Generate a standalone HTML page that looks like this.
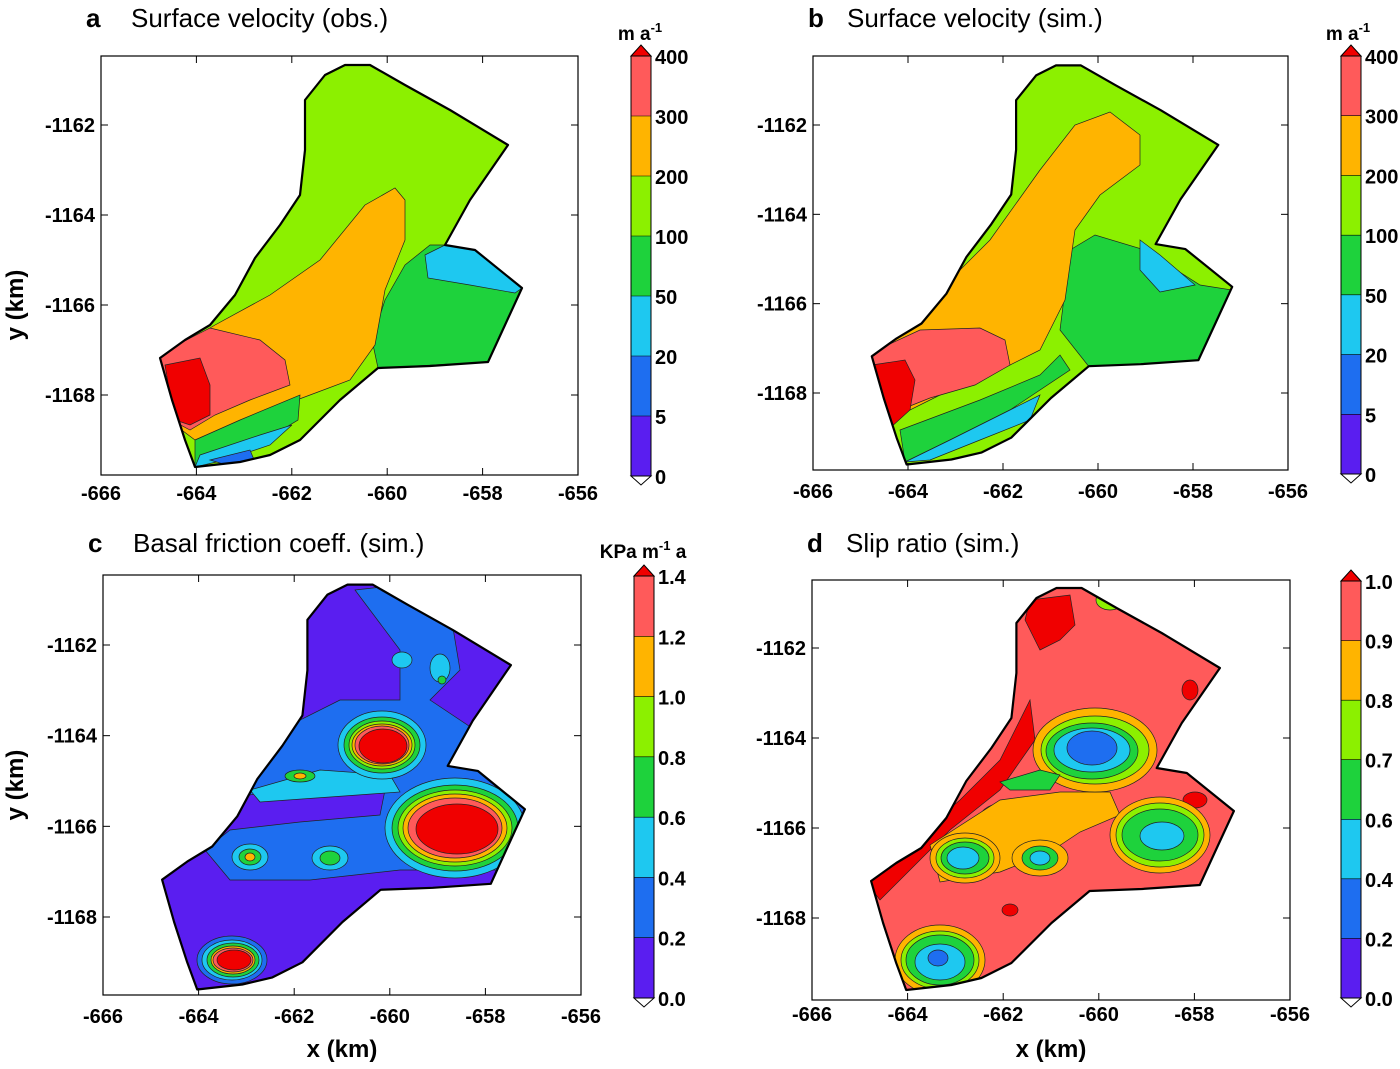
<!DOCTYPE html>
<html><head><meta charset="utf-8"><style>
html,body{margin:0;padding:0;background:#fff;}
svg text{font-family:"Liberation Sans",Arial,sans-serif;}
</style></head><body>
<svg id="fig" width="1400" height="1064" xmlns="http://www.w3.org/2000/svg"></svg>
<script>
// ---- data ----
const xTicks = [-666,-664,-662,-660,-658,-656];
const yTicks = [-1162,-1164,-1166,-1168];
const palette = ["#5a1ef0","#1e6ef0","#1ec8f0","#1ed23c","#8cf000","#ffb400","#ff5a5a","#f00000"];
const cbLabelsV = ["400","300","200","100","50","20","5","0"];
const cbLabelsC = ["1.4","1.2","1.0","0.8","0.6","0.4","0.2","0.0"];
const cbLabelsD = ["1.0","0.9","0.8","0.7","0.6","0.4","0.2","0.0"];
const titles = ["Surface velocity (obs.)","Surface velocity (sim.)","Basal friction coeff. (sim.)","Slip ratio (sim.)"];
const letters = ["a","b","c","d"];

const panels = [
 {x0:101,x1:578,yA:125,yB:395,box:[101,56,578,475],cb:[631,56,651,476],lab:cbLabelsV,unit:"m a",sup:"-1",ux:640,xl:492},
 {x0:813,x1:1288,yA:125,yB:393,box:[813,56,1288,470],cb:[1341,56,1361,474],lab:cbLabelsV,unit:"m a",sup:"-1",ux:1348,xl:490},
 {x0:103,x1:581,yA:645,yB:917,box:[103,575,581,995],cb:[634,576,654,998],lab:cbLabelsC,unit:"KPa m",sup:"-1",unit2:" a",ux:643,xl:1015},
 {x0:812,x1:1290,yA:648,yB:918,box:[812,580,1290,1000],cb:[1341,581,1361,998],lab:cbLabelsD,unit:"",ux:1350,xl:1013}
];
function sx(p,k){return p.x0+(k+666)*(p.x1-p.x0)/10;}
function sy(p,k){return p.yA+(-1162-k)*(p.yB-p.yA)/6;}
function ix(p,px){return -666+(px-p.x0)*10/(p.x1-p.x0);}
function iy(p,py){return -1162-(py-p.yA)*6/(p.yB-p.yA);}
const A=panels[0];
const outline = [[195,467],[185,440],[172,400],[160,358],[185,340],[210,325],[235,295],[255,258],[280,225],[300,195],[305,150],[305,100],[325,75],[345,65],[370,65],[405,85],[450,110],[508,145],[470,200],[445,245],[475,250],[522,288],[505,325],[488,362],[430,366],[378,368],[340,400],[300,440],[270,455],[240,462]].map(q=>[ix(A,q[0]),iy(A,q[1])]);

const regionsA = [
 [3,'p',[[378,368],[372,340],[385,300],[405,265],[430,245],[445,245],[475,250],[522,288],[488,362]]],
 [2,'p',[[425,255],[445,245],[475,250],[522,288],[515,293],[470,285],[428,278]]],
 [5,'p',[[160,358],[215,325],[270,295],[320,260],[365,205],[395,188],[405,200],[405,240],[385,290],[375,345],[350,380],[310,395],[270,410],[230,425],[195,440],[175,425]]],
 [6,'p',[[157,355],[210,328],[260,340],[285,360],[290,385],[250,400],[215,415],[190,430],[175,422]]],
 [7,'p',[[165,365],[200,358],[210,385],[210,415],[190,425],[175,420],[170,395]]],
 [3,'p',[[195,440],[240,420],[300,395],[298,420],[265,440],[215,460],[195,467]]],
 [2,'p',[[200,455],[260,435],[292,425],[270,445],[225,460],[195,467]]],
 [1,'p',[[210,460],[250,450],[255,462],[230,466]]]
];
const regionsB = [
 [3,'p',[[1070,250],[1095,235],[1145,250],[1200,285],[1232,290],[1200,365],[1090,368],[1060,330]]],
 [2,'p',[[1140,240],[1160,255],[1195,285],[1160,292],[1140,270]]],
 [3,'p',[[900,430],[980,400],[1040,375],[1060,355],[1070,370],[1010,410],[950,440],[905,462]]],
 [2,'p',[[905,462],[950,440],[1010,410],[1040,395],[1030,420],[980,440],[930,460]]],
 [5,'p',[[870,345],[930,300],[990,240],[1040,170],[1075,125],[1110,112],[1140,135],[1140,165],[1100,195],[1075,230],[1065,300],[1040,350],[990,375],[940,395],[900,415],[880,400]]],
 [6,'p',[[866,355],[920,330],[980,328],[1005,340],[1010,365],[975,385],[930,398],[900,410],[880,410]]],
 [7,'p',[[872,365],[905,360],[915,380],[910,410],[890,428],[878,420]]]
];
const regionsC = [
 [1,'p',[[355,590],[400,585],[450,610],[460,670],[430,700],[520,760],[528,815],[500,870],[400,870],[310,880],[230,880],[205,850],[230,830],[300,822],[380,815],[385,790],[300,785],[250,795],[240,760],[300,720],[340,700],[400,700],[400,650]]],
 [2,'p',[[250,790],[320,770],[390,775],[400,792],[330,797],[260,802]]],
 [2,'e',382,745,44,34],[3,'e',382,745,38,28],[4,'e',382,745,33,24],[5,'e',382,745,30,21],[6,'e',382,745,27,19],[7,'e',383,746,24,17],
 [2,'e',455,828,70,50],[3,'e',455,828,63,43],[4,'e',455,828,57,38],[5,'e',455,828,52,34],[6,'e',455,828,47,30],[7,'e',457,829,41,25],
 [2,'e',250,857,18,13],[3,'e',250,857,11,8],[5,'e',250,857,5,4],
 [2,'e',330,858,18,12],[3,'e',330,858,10,7],
 [3,'e',300,776,15,6],[5,'e',300,776,6,3],
 [2,'e',402,660,10,8],[2,'e',440,668,10,14],[3,'e',442,680,4,4],
 [1,'e',232,960,35,24],[2,'e',232,960,30,20],[3,'e',233,960,26,17],[5,'e',233,960,22,14],[6,'e',233,960,20,12],[7,'e',234,960,17,10]
];
const regionsD = [
 [7,'p',[[1030,600],[1070,595],[1075,625],[1060,640],[1040,650],[1025,620]]],
 [7,'p',[[866,882],[900,850],[960,800],[1000,760],[1020,720],[1030,700],[1035,740],[1000,790],[950,830],[900,880],[880,900]]],
 [7,'e',1000,822,22,18],[7,'e',1010,910,8,6],[7,'e',1190,690,8,10],[7,'e',1195,800,12,8],[7,'e',1115,600,10,8],
 [5,'p',[[930,845],[1000,800],[1060,792],[1110,792],[1120,815],[1080,832],[1050,852],[1000,872],[940,882]]],
 [5,'e',1095,750,62,42],[4,'e',1095,750,54,34],[3,'e',1092,751,46,28],[2,'e',1092,750,38,22],[1,'e',1092,748,25,17],
 [3,'p',[[1000,782],[1040,770],[1060,775],[1050,790],[1010,790]]],
 [5,'e',1160,835,50,38],[4,'e',1160,835,44,32],[3,'e',1160,835,38,26],[2,'e',1162,836,22,14],
 [5,'e',965,858,35,25],[4,'e',965,858,29,20],[3,'e',965,858,24,16],[2,'e',963,858,16,11],
 [5,'e',1040,858,28,18],[3,'e',1040,858,18,12],[2,'e',1040,858,10,7],
 [5,'e',940,960,45,35],[4,'e',940,960,39,29],[3,'e',940,960,34,25],[2,'e',940,962,25,18],[1,'e',938,958,10,8],
 [4,'e',1110,600,14,10]
];
const regionSets=[regionsA,regionsB,regionsC,regionsD];
const baseColor=[4,4,0,6];

const NS="http://www.w3.org/2000/svg";
const svg=document.getElementById('fig');
function el(tag,attrs,parent){const e=document.createElementNS(NS,tag);for(const k in attrs)e.setAttribute(k,attrs[k]);(parent||svg).appendChild(e);return e;}
function txt(s,attrs,parent){const t=el('text',attrs,parent);t.textContent=s;return t;}

panels.forEach((p,i)=>{
  const g=el('g',{});
  
  
  const [bx0,by0,bx1,by1]=p.box;
  const tl=txt(letters[i],{x:i%2? p.box[0]-5 : p.box[0]-15,y:i<2?27:552,'font-size':26,'font-weight':'bold'},g);
  
  
  const tt=txt(titles[i],{x:(i%2? p.box[0]+34 : p.box[0]+30),y:i<2?27:552,'font-size':26},g);
  
  
  const box=el('rect',{x:bx0,y:by0,width:bx1-bx0,height:by1-by0,fill:'#fff',stroke:'#000','stroke-width':1.2},g);
  
  
  const cid='clip'+i;
  const cp=el('clipPath',{id:cid},g);
  const opts=outline.map(q=>sx(p,q[0]).toFixed(1)+','+sy(p,q[1]).toFixed(1)).join(' ');
  el('polygon',{points:opts},cp);
  const field=el('g',{'clip-path':'url(#'+cid+')'},g);
  
  
  el('polygon',{points:opts,fill:palette[baseColor[i]]},field);
  regionSets[i].forEach(r=>{
    let e;
    if(r[1]==='p'){
      const pts=r[2].map(q=>[ix(p,q[0]),iy(p,q[1])]);
      e=el('polygon',{points:pts.map(q=>sx(p,q[0]).toFixed(1)+','+sy(p,q[1]).toFixed(1)).join(' '),fill:palette[r[0]],stroke:'#222','stroke-width':0.7},field);
    } else {
      const cx=ix(p,r[2]),cy=iy(p,r[3]);
      e=el('ellipse',{cx:sx(p,cx),cy:sy(p,cy),rx:r[4],ry:r[5],fill:palette[r[0]],stroke:'#222','stroke-width':0.7},field);
    }
    
    
  });
  const ol=el('polygon',{points:opts,fill:'none',stroke:'#000','stroke-width':2.2,'stroke-linejoin':'round'},g);
  
  
  xTicks.forEach(v=>{
    const x=sx(p,v);
    el('line',{x1:x,y1:by1,x2:x,y2:by1-7,stroke:'#000'},g);
    el('line',{x1:x,y1:by0,x2:x,y2:by0+7,stroke:'#000'},g);
    const t=txt(String(v),{x:x,y:p.xl+8,'font-size':20,'font-weight':'bold','text-anchor':'middle'},g);
    
    
  });
  yTicks.forEach(v=>{
    const y=sy(p,v);
    el('line',{x1:bx0,y1:y,x2:bx0+7,y2:y,stroke:'#000'},g);
    el('line',{x1:bx1,y1:y,x2:bx1-7,y2:y,stroke:'#000'},g);
    const t=txt(String(v),{x:bx0-6,y:y+7,'font-size':20,'font-weight':'bold','text-anchor':'end'},g);
    
    
  });
  const [cx0,cy0,cx1,cy1]=p.cb;
  const cb=el('g',{},g);
  
  
  const n=p.lab.length-1, h=(cy1-cy0)/n;
  for(let k=0;k<n;k++){
    el('rect',{x:cx0,y:cy0+k*h,width:cx1-cx0,height:h+0.5,fill:palette[n-1-k],stroke:'none'},cb);
  }
  el('rect',{x:cx0,y:cy0,width:cx1-cx0,height:cy1-cy0,fill:'none',stroke:'#000','stroke-width':1},cb);
  el('polygon',{points:`${cx0},${cy0} ${cx1},${cy0} ${(cx0+cx1)/2},${cy0-11}`,fill:palette[7],stroke:'#000','stroke-width':1},cb);
  el('polygon',{points:`${cx0},${cy1} ${cx1},${cy1} ${(cx0+cx1)/2},${cy1+9}`,fill:'#fff',stroke:'#000','stroke-width':1},cb);
  p.lab.forEach((s,k)=>{
    el('line',{x1:cx0,y1:cy0+k*h,x2:cx1,y2:cy0+k*h,stroke:'#000','stroke-width':0.6},cb);
    const t=txt(s,{x:cx1+4,y:cy0+k*h+8,'font-size':20,'font-weight':'bold'},cb);
    
    
  });
  if(p.unit){
    const u=txt('',{x:p.ux,y:i<2?40:558,'font-size':19,'font-weight':'bold','text-anchor':'middle'},cb);
    
    
    const t1=el('tspan',{},u);t1.textContent=p.unit;
    const t2=el('tspan',{dy:-8,'font-size':13},u);t2.textContent=p.sup;
    if(p.unit2){const t3=el('tspan',{dy:8},u);t3.textContent=p.unit2;}
  }
});
[[15,305],[15,785]].forEach(q=>{
  const t=txt('y (km)',{x:q[0],y:q[1],'font-size':24,'font-weight':'bold','text-anchor':'middle',transform:`rotate(-90 ${q[0]} ${q[1]})`,dy:8});
  
  
});
[[342,1057],[1051,1057]].forEach(q=>{
  const t=txt('x (km)',{x:q[0],y:q[1],'font-size':24,'font-weight':'bold','text-anchor':'middle'});
  
  
});
</script>
</body></html>
